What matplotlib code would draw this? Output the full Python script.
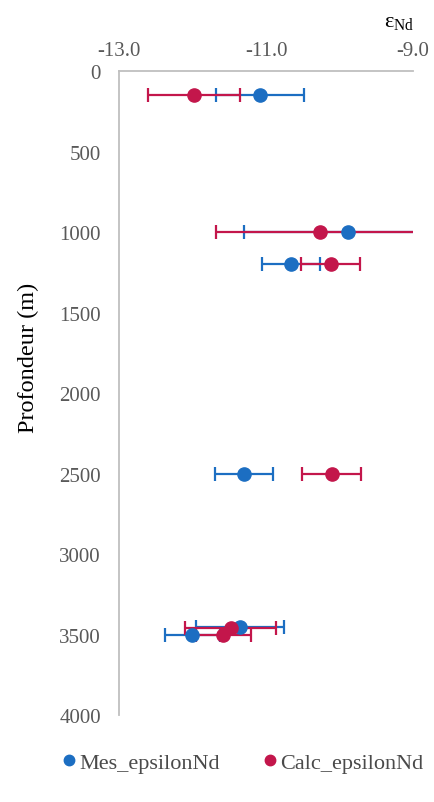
import matplotlib
matplotlib.use("Agg")
import matplotlib.pyplot as plt
from matplotlib.lines import Line2D

plt.rcParams['font.family'] = ['Liberation Serif', 'DejaVu Serif']
plt.rcParams['mathtext.fontset'] = 'custom'
plt.rcParams['mathtext.rm'] = 'Liberation Serif'
plt.rcParams['mathtext.it'] = 'Liberation Serif:italic'

# Data
mes_eps = [-11.08, -9.88, -10.66, -11.30, -11.35, -12.0]
mes_err = [0.60, 1.42, 0.40, 0.40, 0.60, 0.38]
mes_depth = [150, 1000, 1200, 2500, 3450, 3500]

calc_eps = [-11.98, -10.27, -10.12, -10.11, -11.48, -11.58]
calc_err = [0.62, 1.41, 0.40, 0.40, 0.62, 0.37]
calc_depth = [150, 1000, 1200, 2500, 3460, 3500]

x_ticks = [-13.0, -11.0, -9.0]
y_ticks = [0, 500, 1000, 1500, 2000, 2500, 3000, 3500, 4000]

blue = '#1C6EC2'
red = '#C3164B'

fig = plt.figure(figsize=(4.34, 8.03), dpi=100)
ax = fig.add_axes([0.274, 0.108, 0.678, 0.802])

ax.errorbar(mes_eps, mes_depth, xerr=mes_err, fmt='none', ecolor=blue,
            elinewidth=1.6, capsize=5, capthick=1.6, zorder=2)
ax.errorbar(calc_eps, calc_depth, xerr=calc_err, fmt='none', ecolor=red,
            elinewidth=1.6, capsize=5, capthick=1.6, zorder=2)
ax.plot(mes_eps, mes_depth, 'o', color=blue, markersize=9.5, zorder=3)
ax.plot(calc_eps, calc_depth, 'o', color=red, markersize=9.5, zorder=3)

ax.set_xlim(-13.0, -9.0)
ax.set_ylim(4000, 0)
ax.set_xticks(x_ticks)
ax.set_xticklabels([f'{v:.1f}' for v in x_ticks])
ax.set_yticks(y_ticks)
ax.xaxis.tick_top()
ax.tick_params(axis='both', length=0, labelsize=15, colors='#595959', pad=8)
ax.tick_params(axis='y', pad=13)
for s in ['right', 'bottom']:
    ax.spines[s].set_visible(False)
for s in ['left', 'top']:
    ax.spines[s].set_color('#BFBFBF')
    ax.spines[s].set_linewidth(1.3)

fig.text(0.065, 0.554, 'Profondeur (m)', fontsize=17.5, rotation=90,
         ha='center', va='center', color='#000000')

fig.text(0.885, 0.972, r'$\mathrm{\varepsilon_{Nd}}$', fontsize=16, ha='left', va='center', color='#000000')

handles = [Line2D([], [], marker='o', linestyle='none', color=blue, markersize=7.5),
           Line2D([], [], marker='o', linestyle='none', color=red, markersize=7.5)]
fig.legend(handles, ['Mes_epsilonNd', 'Calc_epsilonNd'], loc='center', ncol=2,
           bbox_to_anchor=(0.559, 0.049), frameon=False, fontsize=16,
           handlelength=0.6, handletextpad=0.15, columnspacing=1.95, labelcolor='#4a4a4a')

fig.savefig('out.png', dpi=100)
